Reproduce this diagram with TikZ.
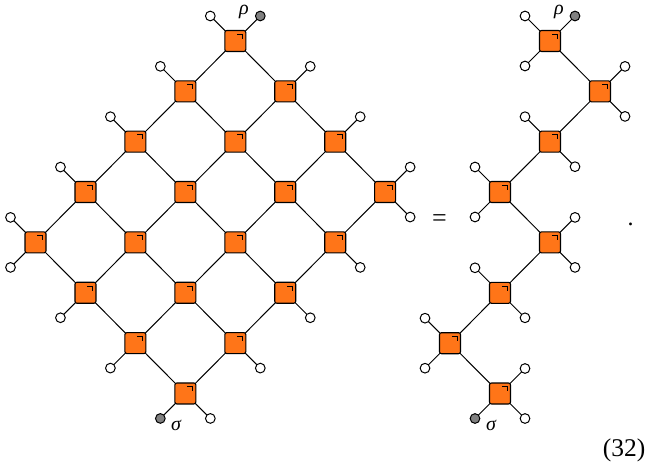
\documentclass[tikz,border=0pt]{standalone}
\usepackage{fontspec}
\setmainfont{Liberation Serif}
\pgfdeclarelayer{bg}
\pgfsetlayers{bg,main}
\definecolor{tensor}{HTML}{FF7518}
\tikzset{
  x=1pt,y=-1pt,
  tensorbox/.style={draw=black,line width=1.1pt,fill=tensor,rounded corners=2pt,minimum size=21pt,inner sep=0pt,outer sep=0pt,
    path picture={\draw[sharp corners,line width=0.9pt,black] ([xshift=1.8pt,yshift=6.8pt]path picture bounding box.center) -- ++(5.2pt,0pt) -- ++(0pt,-4.6pt);}},
  openleg/.style={circle,draw=black,line width=1pt,fill=white,minimum size=9.7pt,inner sep=0pt,outer sep=0pt},
  grayleg/.style={openleg,fill=black!50},
  wire/.style={line width=1pt,black},
  lbl/.style={inner sep=0pt,anchor=base,font=\fontsize{20}{20}\selectfont\itshape},
  big/.style={inner sep=0pt,anchor=base,font=\fontsize{24}{24}\selectfont},
  eqsign/.style={inner sep=0pt,anchor=base,font=\fontsize{26}{26}\selectfont},
  eqnum/.style={inner sep=0pt,anchor=base,font=\fontsize{25.5}{26}\selectfont},
}
\newcommand{\legc}[4][openleg]{%
  \node[#1] (#2-#3) at ([shift={#4}]#2.center) {};
  \begin{pgfonlayer}{bg}\draw[wire] (#2.center) -- (#2-#3.center);\end{pgfonlayer}}
\newcommand{\legNW}[2][openleg]{\legc[#1]{#2}{nw}{(-25,-25)}}
\newcommand{\legNE}[2][openleg]{\legc[#1]{#2}{ne}{(25,-25)}}
\newcommand{\legSW}[2][openleg]{\legc[#1]{#2}{sw}{(-25,25)}}
\newcommand{\legSE}[2][openleg]{\legc[#1]{#2}{se}{(25,25)}}
\newcommand{\wir}[2]{\begin{pgfonlayer}{bg}\draw[wire] (#1.center) -- (#2.center);\end{pgfonlayer}}
\begin{document}
\begin{tikzpicture}
\useasboundingbox (0,0) rectangle (647,462);
% left grid
\foreach \i in {0,...,4}{
  \foreach \j in {0,...,3}{
    \node[tensorbox] (g\i\j) at ({235.3-49.95*\i+49.95*\j},{41+50.35*(\i+\j)}) {};
  }
}
\foreach \i in {0,...,4}{\foreach \j/\k in {0/1,1/2,2/3}{\wir{g\i\j}{g\i\k}}}
\foreach \j in {0,...,3}{\foreach \i/\k in {0/1,1/2,2/3,3/4}{\wir{g\i\j}{g\k\j}}}
\legNW{g00}\legNE[grayleg]{g00}
\legNW{g10}\legNW{g20}\legNW{g30}\legNW{g40}\legSW{g40}
\legSW[grayleg]{g43}\legSE{g43}
\legSW{g41}\legSW{g42}
\legNE{g01}\legNE{g02}\legNE{g03}\legSE{g03}
\legSE{g13}\legSE{g23}\legSE{g33}
% right chain
\node[tensorbox] (r1) at (550,41) {};
\node[tensorbox] (r2) at (600,91.4) {};
\node[tensorbox] (r3) at (550,141.7) {};
\node[tensorbox] (r4) at (500,192) {};
\node[tensorbox] (r5) at (550,242.4) {};
\node[tensorbox] (r6) at (500,292.8) {};
\node[tensorbox] (r7) at (450,343.2) {};
\node[tensorbox] (r8) at (500,393.5) {};
\wir{r1}{r2}\wir{r2}{r3}\wir{r3}{r4}\wir{r4}{r5}\wir{r5}{r6}\wir{r6}{r7}\wir{r7}{r8}
\legNW{r1}\legNE[grayleg]{r1}\legSW{r1}
\legNE{r2}\legSE{r2}
\legNW{r3}\legSE{r3}
\legNW{r4}\legSW{r4}
\legNE{r5}\legSE{r5}
\legNW{r6}\legSE{r6}
\legNW{r7}\legSW{r7}
\legNE{r8}\legSE{r8}\legSW[grayleg]{r8}
% labels
\node[lbl] (rho1) at (244,15) {ρ};
\node[lbl] (rho2) at (559,15) {ρ};
\node[lbl] (sig1) at (176,430) {σ};
\node[lbl] (sig2) at (491,430) {σ};
\node[eqsign] (eq) at (439.5,226.7) {=};
\node[big] (dot) at (630.5,225.5) {.};
\node[eqnum] (num) at (624,456.5) {(32)};
\end{tikzpicture}
\end{document}
